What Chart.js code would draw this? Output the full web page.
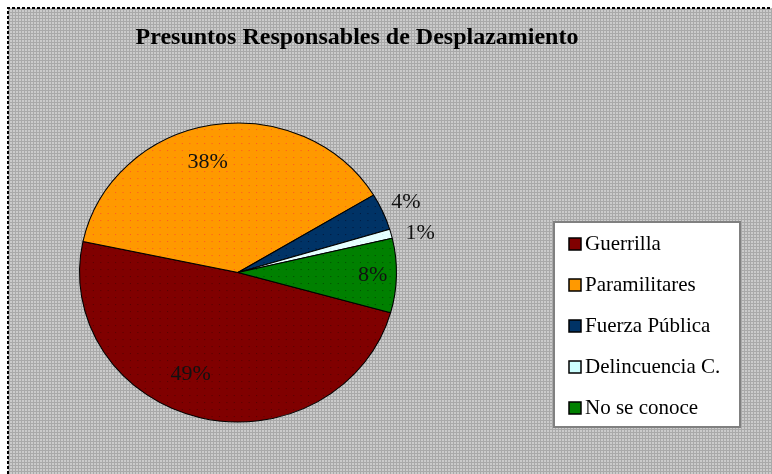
<!DOCTYPE html>
<html>
<head>
<meta charset="utf-8">
<script src="https://cdn.jsdelivr.net/npm/chart.js@4/dist/chart.umd.min.js"></script>
<style>
  html, body { margin: 0; padding: 0; background: #ffffff; }
  #wrap { width: 772px; height: 474px; }
</style>
</head>
<body>
<div id="wrap"><canvas id="c" width="772" height="474"></canvas></div>
<script>
// ---- data ----
const titleText = 'Presuntos Responsables de Desplazamiento';
const categories = ['Guerrilla', 'Paramilitares', 'Fuerza Pública', 'Delincuencia C.', 'No se conoce'];
const shares = [49, 38, 4, 1, 8];
const sliceColors = ['#800000', '#FF9900', '#003366', '#E6FFFF', '#008000'];
const dotColors = ['#5a0000', '#FF5A20', '#001a40', '#c8f0f0', '#005000'];
const legendSwatchColors = ['#800000', '#FF9900', '#003366', '#CCFFFF', '#008000'];

// label placement (style): radial factor and angle shift (deg) relative to slice middle
const labelPlacement = [
  { r: 0.74, da: 10 },
  { r: 0.76, da: -5 },
  { r: 1.16, da: 0 },
  { r: 1.18, da: 2 },
  { r: 0.85, da: 0 }
];
const pieStretchX = 1.06;

function makeDotPattern(base, dot) {
  const t = document.createElement('canvas');
  t.width = 7; t.height = 7;
  const g = t.getContext('2d');
  g.fillStyle = base; g.fillRect(0, 0, 7, 7);
  g.fillStyle = dot; g.fillRect(3, 3, 1, 1);
  return g;
}
const ctx0 = document.getElementById('c').getContext('2d');
const slicePatterns = sliceColors.map((c, i) => {
  const g = makeDotPattern(c, dotColors[i]);
  return ctx0.createPattern(g.canvas, 'repeat');
});

function bgPattern(ctx) {
  const t = document.createElement('canvas');
  t.width = 3; t.height = 3;
  const g = t.getContext('2d');
  g.fillStyle = '#cbcbcb'; g.fillRect(0, 0, 3, 3);
  g.fillStyle = '#a9a9a9';
  g.fillRect(0, 0, 3, 1);
  g.fillRect(0, 0, 1, 3);
  return ctx.createPattern(t, 'repeat');
}

const backgroundPlugin = {
  id: 'bg',
  beforeDraw(chart) {
    const ctx = chart.ctx;
    ctx.save();
    ctx.fillStyle = '#ffffff';
    ctx.fillRect(0, 0, chart.width, chart.height);
    ctx.fillStyle = bgPattern(ctx);
    ctx.fillRect(8, 8, chart.width - 8, chart.height - 8);
    ctx.strokeStyle = '#000000';
    ctx.lineWidth = 2;
    ctx.setLineDash([3, 2]);
    ctx.beginPath();
    ctx.moveTo(8, chart.height);
    ctx.lineTo(8, 8);
    ctx.lineTo(chart.width, 8);
    ctx.stroke();
    ctx.restore();
    // title
    ctx.save();
    ctx.fillStyle = '#000000';
    ctx.font = 'bold 24px "Liberation Serif", "Times New Roman", serif';
    ctx.textAlign = 'center';
    ctx.textBaseline = 'middle';
    ctx.fillText(titleText, 357, 38);
    ctx.restore();
  }
};

const stretchPlugin = {
  id: 'stretch',
  beforeDatasetsDraw(chart) {
    const a = chart.chartArea;
    const cx = (a.left + a.right) / 2;
    chart.ctx.save();
    chart.ctx.translate(cx, 0);
    chart.ctx.scale(pieStretchX, 1);
    chart.ctx.translate(-cx, 0);
  },
  afterDatasetsDraw(chart) {
    chart.ctx.restore();
  }
};

const labelPlugin = {
  id: 'sliceLabels',
  afterDatasetsDraw(chart) {
    const ctx = chart.ctx;
    const meta = chart.getDatasetMeta(0);
    const data = chart.data.datasets[0].data;
    const total = data.reduce((a, b) => a + b, 0);
    ctx.save();
    ctx.font = '22px "Liberation Serif", "Times New Roman", serif';
    ctx.fillStyle = '#111111';
    ctx.textAlign = 'center';
    ctx.textBaseline = 'middle';
    meta.data.forEach((arc, i) => {
      const p = arc.getProps(['x', 'y', 'startAngle', 'endAngle', 'outerRadius'], true);
      const mid = (p.startAngle + p.endAngle) / 2 + labelPlacement[i].da * Math.PI / 180;
      const r = p.outerRadius * labelPlacement[i].r;
      const txt = Math.round(data[i] / total * 100) + '%';
      ctx.fillText(txt, p.x + Math.cos(mid) * r * pieStretchX, p.y + Math.sin(mid) * r);
    });
    ctx.restore();
  }
};

const legendPlugin = {
  id: 'boxLegend',
  afterDraw(chart) {
    const ctx = chart.ctx;
    const x0 = 554, y0 = 222, w = 186, h = 205;
    ctx.save();
    ctx.fillStyle = '#ffffff';
    ctx.fillRect(x0, y0, w, h);
    ctx.strokeStyle = '#808080';
    ctx.lineWidth = 2;
    ctx.strokeRect(x0, y0, w, h);
    ctx.font = '21px "Liberation Serif", "Times New Roman", serif';
    ctx.textBaseline = 'middle';
    ctx.textAlign = 'left';
    chart.data.labels.forEach((lab, i) => {
      const cy = 244 + i * 41;
      ctx.fillStyle = legendSwatchColors[i];
      ctx.fillRect(569, cy - 6, 12, 12);
      ctx.strokeStyle = '#000000';
      ctx.lineWidth = 1.5;
      ctx.strokeRect(569, cy - 6, 12, 12);
      ctx.fillStyle = '#000000';
      ctx.fillText(lab, 585, cy);
    });
    ctx.restore();
  }
};

new Chart(document.getElementById('c'), {
  type: 'pie',
  data: {
    labels: categories,
    datasets: [{
      data: shares,
      backgroundColor: slicePatterns,
      borderColor: '#000000',
      borderWidth: 1,
      hoverOffset: 0
    }]
  },
  options: {
    responsive: false,
    animation: false,
    devicePixelRatio: 1,
    rotation: 105.6,
    layout: { padding: { left: 88, right: 384, top: 122, bottom: 51 } },
    plugins: {
      legend: { display: false },
      title: { display: false },
      tooltip: { enabled: false }
    }
  },
  plugins: [backgroundPlugin, stretchPlugin, labelPlugin, legendPlugin]
});
</script>
</body>
</html>
